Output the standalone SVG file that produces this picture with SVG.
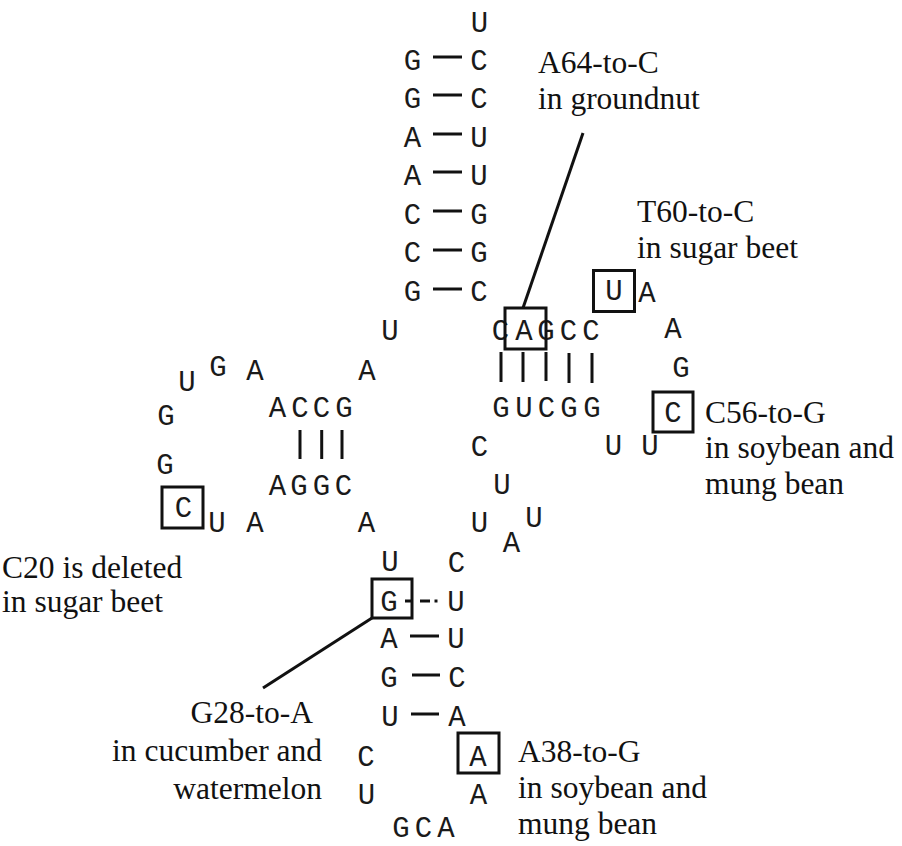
<svg xmlns="http://www.w3.org/2000/svg" width="902" height="846" viewBox="0 0 902 846">
  <style>
    .nt { font-family: "Courier New", "Nimbus Mono PS", "FreeMono", "Liberation Mono", monospace; font-size: 29px; fill: #1a1a1a; text-anchor: middle; }
    .lbl { font-family: "Liberation Serif", "Times New Roman", serif; font-size: 31.5px; fill: #111; }
    .bond { stroke: #111; stroke-width: 3; fill: none; }
    .box { stroke: #111; stroke-width: 3; fill: none; }
    .lead { stroke: #111; stroke-width: 3; fill: none; }
  </style>

  <rect width="902" height="846" fill="#fff"/>

  <!-- acceptor stem and loop-top U -->
  <g id="acceptor-stem">
    <text class="nt" x="479.5" y="31.5">U</text>
    <text class="nt" x="412.5" y="69.5">G</text><text class="nt" x="479" y="69.5">C</text>
    <text class="nt" x="412.5" y="107.5">G</text><text class="nt" x="479" y="107.5">C</text>
    <text class="nt" x="412.5" y="146.5">A</text><text class="nt" x="479" y="146.5">U</text>
    <text class="nt" x="412.5" y="184.5">A</text><text class="nt" x="479" y="184.5">U</text>
    <text class="nt" x="412.5" y="223.5">C</text><text class="nt" x="479" y="223.5">G</text>
    <text class="nt" x="412.5" y="261.5">C</text><text class="nt" x="479" y="261.5">G</text>
    <text class="nt" x="412.5" y="300.5">G</text><text class="nt" x="479" y="300.5">C</text>
  </g>

  <!-- junction residues -->
  <g id="junction">
    <text class="nt" x="390" y="339.5">U</text>
    <text class="nt" x="367" y="379.5">A</text>
  </g>

  <!-- T arm stem -->
  <g id="t-stem">
    <text class="nt" x="500.5" y="339.5">C</text>
    <text class="nt" x="524" y="339.5">A</text>
    <text class="nt" x="546" y="339.5">G</text>
    <text class="nt" x="568.5" y="339.5">C</text>
    <text class="nt" x="591" y="339.5">C</text>
    <text class="nt" x="501" y="416.5">G</text>
    <text class="nt" x="524" y="416.5">U</text>
    <text class="nt" x="546.5" y="416.5">C</text>
    <text class="nt" x="569" y="416.5">G</text>
    <text class="nt" x="592" y="416.5">G</text>
  </g>

  <!-- T loop -->
  <g id="t-loop">
    <text class="nt" x="614" y="299.5">U</text>
    <text class="nt" x="647" y="301.5">A</text>
    <text class="nt" x="673" y="337.5">A</text>
    <text class="nt" x="681" y="376.5">G</text>
    <text class="nt" x="673" y="421.5">C</text>
    <text class="nt" x="650" y="454.5">U</text>
    <text class="nt" x="613.5" y="454.5">U</text>
  </g>

  <!-- variable region -->
  <g id="variable-loop">
    <text class="nt" x="479.5" y="455.5">C</text>
    <text class="nt" x="502" y="493.5">U</text>
    <text class="nt" x="534" y="526.5">U</text>
    <text class="nt" x="511.5" y="551.5">A</text>
    <text class="nt" x="479.5" y="531.5">U</text>
  </g>

  <!-- D arm stem -->
  <g id="d-stem">
    <text class="nt" x="277.5" y="416.5">A</text>
    <text class="nt" x="300" y="416.5">C</text>
    <text class="nt" x="321.5" y="416.5">C</text>
    <text class="nt" x="344" y="416.5">G</text>
    <text class="nt" x="277.5" y="494.5">A</text>
    <text class="nt" x="299" y="494.5">G</text>
    <text class="nt" x="321.5" y="494.5">G</text>
    <text class="nt" x="343.5" y="494.5">C</text>
  </g>

  <!-- D loop -->
  <g id="d-loop">
    <text class="nt" x="255" y="379.5">A</text>
    <text class="nt" x="218" y="375.5">G</text>
    <text class="nt" x="187" y="390.5">U</text>
    <text class="nt" x="166" y="424.5">G</text>
    <text class="nt" x="165" y="473.5">G</text>
    <text class="nt" x="183.5" y="516.5">C</text>
    <text class="nt" x="217" y="531.5">U</text>
    <text class="nt" x="255" y="531.5">A</text>
    <text class="nt" x="366.5" y="531.5">A</text>
  </g>

  <!-- anticodon stem -->
  <g id="anticodon-stem">
    <text class="nt" x="390" y="570.5">U</text><text class="nt" x="456.5" y="571.5">C</text>
    <text class="nt" x="389" y="610.5">G</text><text class="nt" x="456" y="610.5">U</text>
    <text class="nt" x="389" y="647.5">A</text><text class="nt" x="456" y="647.5">U</text>
    <text class="nt" x="389" y="686.5">G</text><text class="nt" x="457" y="686.5">C</text>
    <text class="nt" x="390" y="725.5">U</text><text class="nt" x="457" y="725.5">A</text>
  </g>

  <!-- anticodon loop -->
  <g id="anticodon-loop">
    <text class="nt" x="366" y="765.5">C</text>
    <text class="nt" x="366.5" y="803.5">U</text>
    <text class="nt" x="401" y="837">G</text>
    <text class="nt" x="423.5" y="837">C</text>
    <text class="nt" x="446" y="837">A</text>
    <text class="nt" x="478.5" y="803.5">A</text>
    <text class="nt" x="478" y="765.5">A</text>
  </g>

  <!-- variant site boxes -->
  <g id="site-boxes">
    <rect class="box" x="505" y="308" width="41" height="41"/>
    <rect class="box" x="593.5" y="270.5" width="41" height="41"/>
    <rect class="box" x="653" y="392" width="40" height="40"/>
    <rect class="box" x="162" y="487" width="41" height="41"/>
    <rect class="box" x="372" y="579" width="40" height="39"/>
    <rect class="box" x="458" y="733" width="41" height="40"/>
  </g>

  <!-- base-pair bonds and leader lines -->
  <g id="connectors">
    <g id="acceptor-bonds">
      <line class="bond" x1="433" y1="57" x2="462" y2="57"/>
      <line class="bond" x1="433" y1="95" x2="462" y2="95"/>
      <line class="bond" x1="433" y1="134" x2="462" y2="134"/>
      <line class="bond" x1="433" y1="172" x2="462" y2="172"/>
      <line class="bond" x1="433" y1="211" x2="462" y2="211"/>
      <line class="bond" x1="433" y1="250" x2="462" y2="250"/>
      <line class="bond" x1="433" y1="289" x2="462" y2="289"/>
    </g>
    <g id="t-stem-bonds">
      <line class="bond" x1="501" y1="352" x2="501" y2="382"/>
      <line class="bond" x1="523" y1="352" x2="523" y2="382"/>
      <line class="bond" x1="546" y1="352" x2="546" y2="381"/>
      <line class="bond" x1="569" y1="353" x2="569" y2="383"/>
      <line class="bond" x1="592" y1="353" x2="592" y2="383"/>
    </g>
    <g id="d-stem-bonds">
      <line class="bond" x1="300" y1="430" x2="300" y2="459"/>
      <line class="bond" x1="321.7" y1="430" x2="321.7" y2="459"/>
      <line class="bond" x1="342" y1="430" x2="342" y2="459"/>
    </g>
    <g id="anticodon-bonds">
      <line class="bond" x1="405" y1="601" x2="411" y2="601"/>
      <line class="bond" x1="420" y1="601" x2="430" y2="601"/>
      <line class="bond" x1="434.5" y1="601" x2="437.5" y2="601"/>
      <line class="bond" x1="410" y1="636" x2="439" y2="636"/>
      <line class="bond" x1="412" y1="675" x2="440" y2="675"/>
      <line class="bond" x1="411" y1="714" x2="439" y2="714"/>
    </g>
    <line class="lead" x1="583" y1="133" x2="523" y2="308"/>
    <line class="lead" x1="372" y1="618" x2="263" y2="688"/>
  </g>

  <!-- variant annotations -->
  <g id="label-a64">
    <text class="lbl" x="538" y="73">A64-to-C</text>
    <text class="lbl" x="538" y="109">in groundnut</text>
  </g>
  <g id="label-t60">
    <text class="lbl" x="637" y="222">T60-to-C</text>
    <text class="lbl" x="637" y="258">in sugar beet</text>
  </g>
  <g id="label-c56">
    <text class="lbl" x="705" y="423">C56-to-G</text>
    <text class="lbl" x="705" y="458">in soybean and</text>
    <text class="lbl" x="705" y="494">mung bean</text>
  </g>
  <g id="label-c20">
    <text class="lbl" x="2" y="578">C20 is deleted</text>
    <text class="lbl" x="2" y="612">in sugar beet</text>
  </g>
  <g id="label-g28" text-anchor="end">
    <text class="lbl" x="313" y="723">G28-to-A</text>
    <text class="lbl" x="322" y="761">in cucumber and</text>
    <text class="lbl" x="322" y="799">watermelon</text>
  </g>
  <g id="label-a38">
    <text class="lbl" x="518" y="762">A38-to-G</text>
    <text class="lbl" x="518" y="798">in soybean and</text>
    <text class="lbl" x="518" y="834">mung bean</text>
  </g>
</svg>
